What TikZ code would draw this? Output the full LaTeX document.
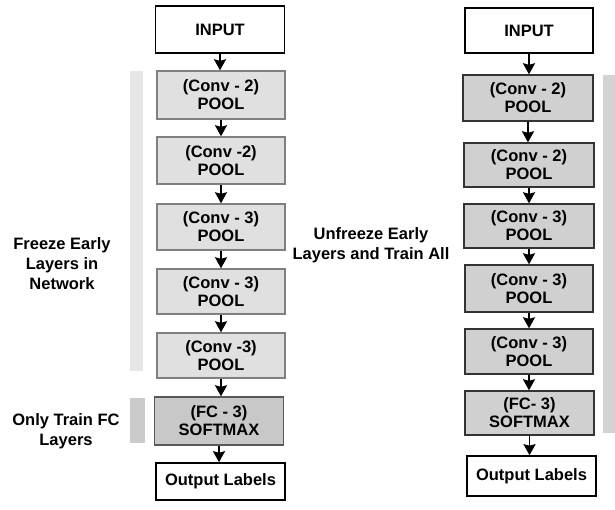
\documentclass[tikz,border=0pt]{standalone}
\usepackage{fontspec}
\setmainfont{Liberation Sans}
\usetikzlibrary{arrows.meta}
\definecolor{boxA}{HTML}{E0E0E0}
\definecolor{boxB}{HTML}{C8C8C8}
\definecolor{boxC}{HTML}{D0D0D0}
\definecolor{barA}{HTML}{E6E6E6}
\definecolor{barB}{HTML}{CBCBCB}
\definecolor{barC}{HTML}{D3D3D3}
\tikzset{
  every node/.style={font=\fontsize{16.5}{18}\selectfont\bfseries, align=center, inner sep=0pt},
  plainbox/.style={draw=black, line width=1.6pt, fill=white},
  frozenbox/.style={draw=black!50, line width=1.4pt, fill=boxA},
  fcbox/.style={draw=black!65, line width=1.4pt, fill=boxB},
  trainbox/.style={draw=black!80, line width=1.4pt, fill=boxC},
  flow/.style={line width=1.9pt, -{Stealth[width=12pt,length=11pt,inset=1.5pt]}},
  sidelabel/.style={font=\fontsize{16.5}{20}\selectfont\bfseries}
}
\newcommand{\bx}[6]{\node[#1, minimum width=#4pt, minimum height=#5pt] (#2) at (#3) {#6};}
\begin{document}
\begin{tikzpicture}[x=1pt,y=-1pt]
\useasboundingbox (0,0) rectangle (615,510);
% side bars
\fill[barA] (130,71) rectangle (143,371);
\fill[barB] (130,398) rectangle (145,443);
\fill[barC] (603,75) rectangle (615,433);
% left column
\bx{plainbox}{lin}{220,29.5}{129}{47}{INPUT}
\bx{frozenbox}{l1}{221,95}{128}{48}{(Conv - 2)\\POOL}
\bx{frozenbox}{l2}{221,160.5}{128}{47}{(Conv -2)\\POOL}
\bx{frozenbox}{l3}{221,227}{128}{46}{(Conv - 3)\\POOL}
\bx{frozenbox}{l4}{221,291.5}{128}{45}{(Conv - 3)\\POOL}
\bx{frozenbox}{l5}{221,355.5}{128}{45}{(Conv -3)\\POOL}
\bx{fcbox}{lfc}{219,421}{129}{48}{(FC - 3)\\SOFTMAX}
\bx{plainbox}{lout}{220.5,481.5}{129}{37}{Output Labels}
\foreach \a/\b in {lin/l1,l1/l2,l2/l3,l3/l4,l4/l5,l5/lfc,lfc/lout}
  \draw[flow] (\a.south) -- (\a.south |- \b.north);
% right column
\bx{plainbox}{rin}{529,30.5}{128}{45}{INPUT}
\bx{trainbox}{r1}{528,98}{130}{46}{(Conv - 2)\\POOL}
\bx{trainbox}{r2}{529,165}{130}{44}{(Conv - 2)\\POOL}
\bx{trainbox}{r3}{529,226}{130}{44}{(Conv - 3)\\POOL}
\bx{trainbox}{r4}{529,288.5}{128}{47}{(Conv - 3)\\POOL}
\bx{trainbox}{r5}{529,351.5}{128}{45}{(Conv - 3)\\POOL}
\bx{trainbox}{rfc}{529.5,413}{129}{44}{(FC- 3)\\SOFTMAX}
\bx{plainbox}{rout}{531.5,476}{129}{40}{Output Labels}
\foreach \a/\b in {rin/r1,r1/r2,r2/r3,r3/r4,r4/r5,r5/rfc,rfc/rout}
  \draw[flow] (\a.south) -- (\a.south |- \b.north);
% labels
\node[sidelabel] (freeze) at (62,264) {Freeze Early\\Layers in\\Network};
\node[sidelabel] (fconly) at (66,431) {Only Train FC\\Layers};
\node[sidelabel] (unfreeze) at (371,245) {Unfreeze Early\\Layers and Train All};
\end{tikzpicture}
\end{document}
